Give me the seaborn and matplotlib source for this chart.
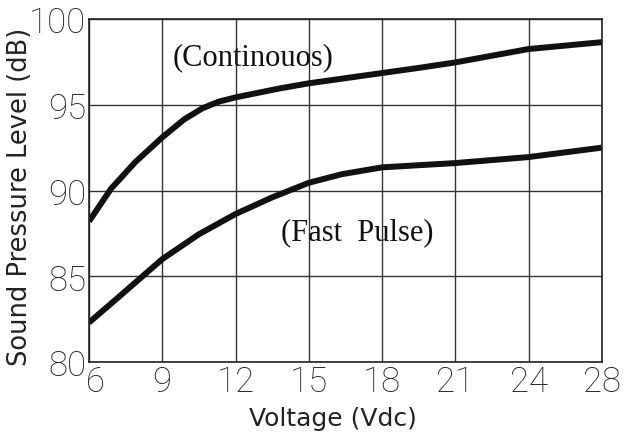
import matplotlib
matplotlib.use("Agg")
import matplotlib.pyplot as plt
import matplotlib.transforms as mtransforms
from matplotlib import font_manager
from matplotlib.font_manager import FontProperties
import seaborn as sns
import pandas as pd

# Tick labels (equally spaced categories on the x axis)
voltage_labels = ["6", "9", "12", "15", "18", "21", "24", "28"]
y_ticks = [80, 85, 90, 95, 100]

# Curve readings: position along the category axis (0 = "6", 7 = "28")
cont_pos = [0, 0.3, 0.63, 1, 1.3, 1.55, 1.77, 2, 2.6, 3, 3.5, 4, 4.5, 5, 5.5, 6, 7]
cont_db = [88.2, 90.1, 91.65, 93.1, 94.15, 94.8, 95.18, 95.43, 95.95, 96.25,
           96.55, 96.85, 97.15, 97.47, 97.86, 98.25, 98.65]

pulse_pos = [0, 0.4, 1, 1.5, 2, 2.5, 3, 3.45, 4, 5, 6, 7]
pulse_db = [82.3, 83.77, 86.0, 87.45, 88.63, 89.6, 90.45, 90.95, 91.35, 91.6, 91.95, 92.5]

df = pd.concat([
    pd.DataFrame({"pos": cont_pos, "db": cont_db, "mode": "Continuous"}),
    pd.DataFrame({"pos": pulse_pos, "db": pulse_db, "mode": "Fast Pulse"}),
])


def pick_font(family, weight, size, style="normal"):
    """Pick a specific installed font file so weight matching is deterministic."""
    cands = [f for f in font_manager.fontManager.ttflist
             if f.name == family and f.style == style]
    if not cands:
        return FontProperties(family=family, weight=weight, size=size)

    def key(f):
        w = f.weight if isinstance(f.weight, (int, float)) else 400
        return (abs(w - weight), f.stretch != "normal", f.fname)

    best = sorted(cands, key=key)[0]
    return FontProperties(fname=best.fname, size=size)


sns.set_theme(style="white")
fig = plt.figure(figsize=(6.25, 4.35), dpi=100)
ax = fig.add_axes([0.1424, 0.1655, 0.8206, 0.7885])

sns.lineplot(data=df, x="pos", y="db", units="mode", estimator=None,
             color="#111111", linewidth=4.3, ax=ax, legend=False,
             solid_capstyle="butt", solid_joinstyle="round")

ax.set_xlim(0, 7)
ax.set_ylim(80, 100)
ax.set_xticks(range(len(voltage_labels)))
ax.set_xticklabels(voltage_labels)
ax.set_yticks(y_ticks)
ax.grid(True, color="#333333", linewidth=1.0)
ax.set_axisbelow(True)
for s in ax.spines.values():
    s.set_color("#222222")
    s.set_linewidth(1.2)
ax.tick_params(axis="both", length=0, pad=2, labelcolor="#222222")
tick_fp = pick_font("Roboto", 250, 25)
for lbl in ax.get_xticklabels() + ax.get_yticklabels():
    lbl.set_fontproperties(tick_fp)

# first x label sits slightly right of its tick, as in the reference
first = ax.get_xticklabels()[0]
first.set_transform(first.get_transform() +
                    mtransforms.ScaledTranslation(6 / 100, 0, fig.dpi_scale_trans))

ax.set_xlabel("Voltage (Vdc)", fontproperties=pick_font("DejaVu Sans", 400, 18), color="#222222")
ax.set_ylabel("Sound Pressure Level (dB)", fontproperties=pick_font("DejaVu Sans", 400, 18.5), color="#222222")
ax.xaxis.set_label_coords(0.476, -0.128)
ax.yaxis.set_label_coords(-0.109, 0.484)

serif_fp = pick_font("Liberation Serif", 400, 22)
ax.text(2.24, 97.8, "(Continouos)", fontproperties=serif_fp,
        ha="center", va="center", color="#111111")
ax.text(3.66, 87.58, "(Fast  Pulse)", fontproperties=serif_fp,
        ha="center", va="center", color="#111111")

fig.savefig("out.png", dpi=100, facecolor="white")
